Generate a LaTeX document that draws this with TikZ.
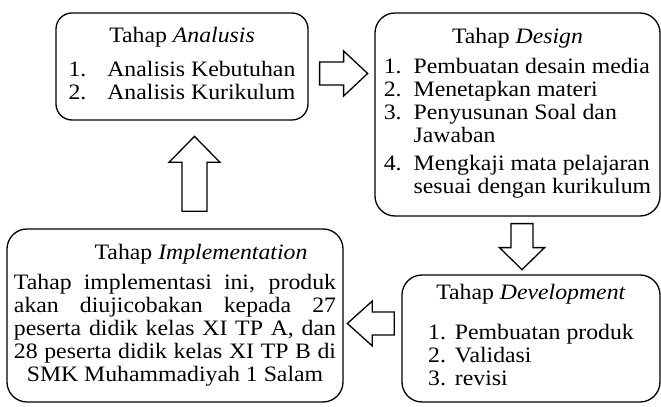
\documentclass[tikz,border=0pt]{standalone}
\usepackage{fontspec}
\setmainfont[FakeStretch=1.08]{Liberation Serif}
\usepackage{tikz}
\usetikzlibrary{positioning}

\tikzset{
  stagebox/.style={draw, line width=0.65pt, rounded corners=10pt, inner sep=0pt, align=center},
  blockarrow/.style={draw, line width=0.65pt, fill=white},
}

\begin{document}
\begin{tikzpicture}[x=0.5pt, y=-0.5pt, font=\fontsize{11}{11.5}\selectfont]
\useasboundingbox (0,0) rectangle (661,407);
% the four stages
\node[stagebox, rounded corners=8pt, minimum width=126pt, minimum height=53.5pt] (ana) at (182,66.5) {Tahap \textit{Analusis}\\[5.5pt]
  \begin{tabular}[t]{@{}l@{\hspace{10.5pt}}l@{}}1. & Analisis Kebutuhan\\ 2. & Analisis Kurikulum\end{tabular}};
\node[stagebox, minimum width=142.5pt, minimum height=101.5pt] (des) at (517.5,114.5) {Tahap \textit{Design}\\[3.5pt]
  \begin{tabular}[t]{@{}l@{\hspace{6pt}}l@{}}1. & Pembuatan desain media\\ 2. & Menetapkan materi\\ 3. & Penyusunan Soal dan\\ & Jawaban\\[2.5pt] 4. & Mengkaji mata pelajaran\\ & sesuai dengan kurikulum\end{tabular}};
\node[stagebox, minimum width=129pt, minimum height=63.5pt] (dev) at (531,338.5) {Tahap \textit{Development}\\[8.5pt]
  \begin{tabular}[t]{@{}l@{\hspace{4.5pt}}l@{}}1. & Pembuatan produk\\ 2. & Validasi\\ 3. & revisi\end{tabular}};
\node[stagebox, minimum width=168pt, minimum height=86.5pt] (imp) at (175,315.5) {\hspace*{26pt}Tahap \textit{Implementation}\\[3.5pt]
  \makebox[161pt][s]{Tahap implementasi ini, produk}\\
  \makebox[161pt][s]{akan diujicobakan kepada 27}\\
  \makebox[161pt][s]{peserta didik kelas XI TP A, dan}\\
  \makebox[161pt][s]{28 peserta didik kelas XI TP B di}\\
  SMK Muhammadiyah 1 Salam};
% block arrows between the stages
\draw[blockarrow] ([shift={(11,-4.5)}]ana.east) -- ++(24,0) -- ++(0,-11) -- ++(24,22.5) -- ++(-24,22.5) -- ++(0,-11) -- ++(-24,0) -- cycle;
\draw[blockarrow] ([shift={(-6.5,7)}]des.south) -- ++(22,0) -- ++(0,24) -- ++(11.5,0) -- ++(-22.5,22) -- ++(-22.5,-22) -- ++(11.5,0) -- cycle;
\draw[blockarrow] ([shift={(-7,-26.5)}]dev.west) -- ++(-22,0) -- ++(0,-11) -- ++(-25,22.5) -- ++(25,22.5) -- ++(0,-11) -- ++(22,0) -- cycle;
\draw[blockarrow] ([shift={(7,-17)}]imp.north) -- ++(0,-49) -- ++(-13,0) -- ++(25.5,-26) -- ++(25.5,26) -- ++(-13,0) -- ++(0,49) -- cycle;
\end{tikzpicture}
\end{document}
